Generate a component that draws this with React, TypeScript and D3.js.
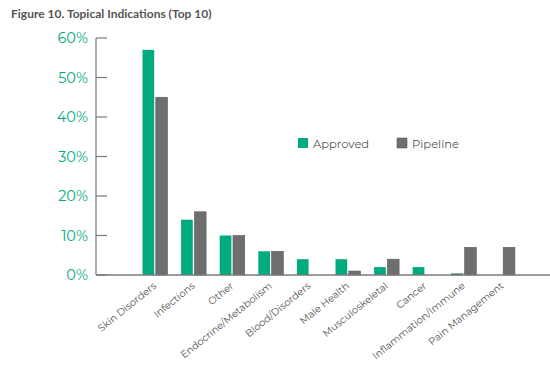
import React from "react";
import * as d3 from "d3";

const categories = [
  "Skin Disorders",
  "Infections",
  "Other",
  "Endocrine/Metabolism",
  "Blood/Disorders",
  "Male Health",
  "Musculoskeletal",
  "Cancer",
  "Inflammation/Immune",
  "Pain Management",
];
const approved = [57, 14, 10, 6, 4, 4, 2, 2, 0.3, 0];
const pipeline = [45, 16, 10, 6, 0, 1, 4, 0, 7, 7];
const seriesNames = ["Approved", "Pipeline"];
const yTicks = [0, 10, 20, 30, 40, 50, 60];

const GREEN = "#00ab80";
const GRAY = "#6e6e6e";
const AXIS = "#7a7a7a";
const TEXT = "#555555";

export default function App() {
  const W = 550;
  const H = 367;
  const axisX = 96;
  const y = d3.scaleLinear().domain([0, 60]).range([275, 38]);
  const x = d3
    .scaleBand<string>()
    .domain(categories)
    .range([135.7, 521.7])
    .paddingInner(0)
    .paddingOuter(0);
  const inner = d3
    .scaleBand<string>()
    .domain(seriesNames)
    .range([-12.5, 12.5])
    .paddingInner(0.12);
  const colors = [GREEN, GRAY];
  const data = [approved, pipeline];
  const font = "'Montserrat', 'Noto Sans', Lato, sans-serif";

  return (
    <svg
      width={W}
      height={H}
      style={{ position: "absolute", left: 0, top: 0, background: "#fff" }}
    >
      <text x={11} y={18} fontFamily="Lato, 'Noto Sans', sans-serif" fontWeight={700} fontSize={12} fill={TEXT}>
        Figure 10. Topical Indications (Top 10)
      </text>
      {/* y axis */}
      <line x1={axisX} x2={axisX} y1={y(60)} y2={y(0)} stroke={AXIS} strokeWidth={1.2} />
      {yTicks.map((t) => (
        <g key={t}>
          <line x1={axisX} x2={axisX + 11} y1={y(t)} y2={y(t)} stroke={AXIS} strokeWidth={1.2} />
          <text
            x={88}
            y={y(t) + 5}
            textAnchor="end"
            fontFamily={font}
            fontSize={14.5}
            fill={GREEN}
          >
            {t}%
          </text>
        </g>
      ))}
      {/* bars */}
      {categories.map((c, i) => {
        const cx = (x(c) ?? 0) + x.bandwidth() / 2;
        return (
          <g key={c}>
            {data.map((vals, s) => {
              const v = vals[i];
              if (v <= 0) return null;
              const bx = cx + (inner(seriesNames[s]) ?? 0);
              const top = y(v);
              return (
                <rect
                  key={s}
                  x={bx}
                  y={top}
                  width={inner.bandwidth()}
                  height={y(0) - top}
                  fill={colors[s]}
                  stroke={s === 1 ? "#5a5a5a" : v < 1 ? "#5a5a5a" : "none"}
                  strokeWidth={0.6}
                />
              );
            })}
            <text
              transform={`translate(${cx + 2},${287}) rotate(-39)`}
              textAnchor="end"
              fontFamily={font}
              fontSize={10}
              fill={TEXT}
            >
              {c}
            </text>
          </g>
        );
      })}
      {/* x axis */}
      <line x1={axisX} x2={W} y1={y(0)} y2={y(0)} stroke={AXIS} strokeWidth={1.5} />
      {/* legend */}
      {seriesNames.map((n, i) => {
        const lx = [298, 397][i];
        return (
          <g key={n}>
            <rect x={lx} y={138} width={10} height={10} fill={colors[i]} stroke={i === 1 ? "#5a5a5a" : "none"} strokeWidth={0.6} />
            <text x={lx + 15} y={147.5} fontFamily={font} fontSize={11.5} fill={TEXT}>
              {n}
            </text>
          </g>
        );
      })}
    </svg>
  );
}
